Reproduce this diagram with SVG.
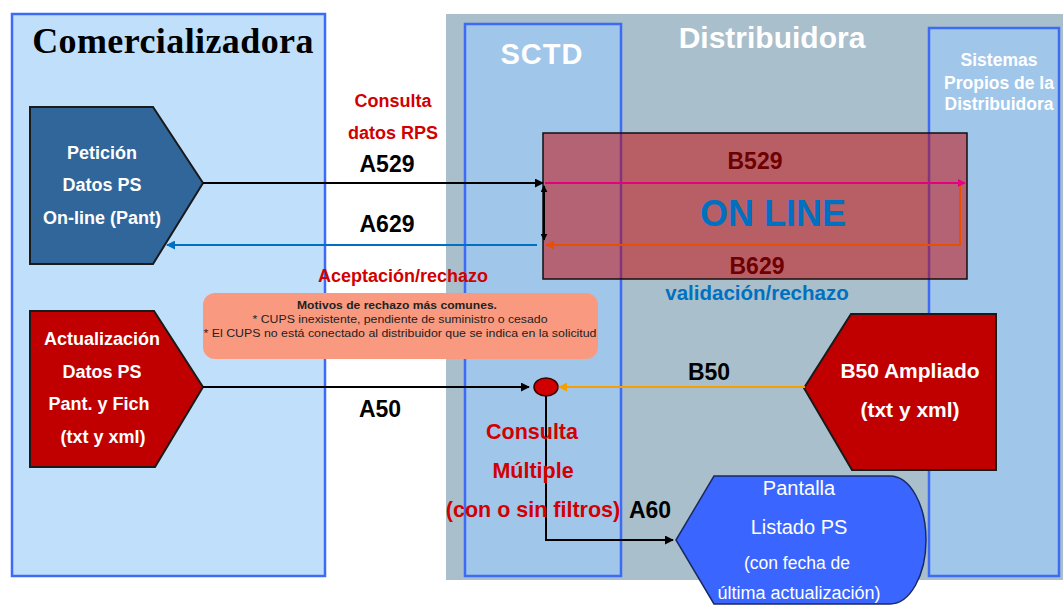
<svg xmlns="http://www.w3.org/2000/svg" width="1063" height="605" viewBox="0 0 1063 605">
<defs>
<style>
.panel{stroke:#3d6bf5;stroke-width:2.5}
.t{font-family:"Liberation Sans",Arial,sans-serif;text-anchor:middle}
.b{font-weight:bold}
.w{fill:#ffffff}
.red{fill:#d20000}
.code{font-family:"Liberation Sans",Arial,sans-serif;font-weight:bold;font-size:23px;fill:#000;text-anchor:middle}
.dk{fill:#6e0000}
.conn{fill:none;stroke-width:2}
</style>
<marker id="ahK" viewBox="0 0 10 10" refX="9" refY="5" markerWidth="9" markerHeight="9" markerUnits="userSpaceOnUse" orient="auto"><path d="M0,0 L10,5 L0,10 Z" fill="#000"/></marker>
<marker id="ahB" viewBox="0 0 10 10" refX="9" refY="5" markerWidth="9" markerHeight="9" markerUnits="userSpaceOnUse" orient="auto"><path d="M0,0 L10,5 L0,10 Z" fill="#0070c0"/></marker>
<marker id="ahM" viewBox="0 0 10 10" refX="9" refY="5" markerWidth="8" markerHeight="8" markerUnits="userSpaceOnUse" orient="auto"><path d="M0,0 L10,5 L0,10 Z" fill="#e6007e"/></marker>
<marker id="ahO" viewBox="0 0 10 10" refX="9" refY="5" markerWidth="9" markerHeight="9" markerUnits="userSpaceOnUse" orient="auto"><path d="M0,0 L10,5 L0,10 Z" fill="#e85000"/></marker>
<marker id="ahY" viewBox="0 0 10 10" refX="9" refY="5" markerWidth="9" markerHeight="9" markerUnits="userSpaceOnUse" orient="auto"><path d="M0,0 L10,5 L0,10 Z" fill="#f5a000"/></marker>
<marker id="ahS" viewBox="0 0 10 10" refX="9" refY="5" markerWidth="7" markerHeight="7" markerUnits="userSpaceOnUse" orient="auto"><path d="M0,0 L10,5 L0,10 Z" fill="#000"/></marker>
</defs>
<rect width="1063" height="605" fill="#ffffff"/>

<g id="comercializadora">
<rect class="panel" x="12" y="14" width="313" height="562" fill="#bfdffb"/>
<text x="173" y="53" style="font-family:'Liberation Serif','Times New Roman',serif;font-weight:bold;font-size:36px;text-anchor:middle" letter-spacing="0.4" fill="#000">Comercializadora</text>
</g>

<g id="distribuidora">
<rect x="446" y="14" width="617" height="566" fill="#a9bfcc"/>
<text class="t b w" x="772" y="48" font-size="30">Distribuidora</text>
</g>

<g id="sctd">
<rect class="panel" x="465" y="24" width="156" height="552" fill="#a0c6ea"/>
<text class="t b w" x="542" y="64" font-size="29" letter-spacing="1">SCTD</text>
</g>

<g id="sistemas">
<rect class="panel" x="929" y="28" width="130" height="548" fill="#a0c6ea"/>
<text class="t b w" x="999" y="66" font-size="17.5">Sistemas</text>
<text class="t b w" x="999" y="89" font-size="17.5">Propios de la</text>
<text class="t b w" x="999" y="110" font-size="17.5">Distribuidora</text>
</g>

<g id="peticion">
<path d="M30,107 L153,107 L203,183 L153,264 L30,264 Z" fill="#31669a" stroke="#1a1a1a" stroke-width="2"/>
<text class="t b w" x="102" y="159" font-size="18">Petición</text>
<text class="t b w" x="102" y="191" font-size="18">Datos PS</text>
<text class="t b w" x="102" y="224" font-size="18">On-line (Pant)</text>
</g>

<g id="actualizacion">
<path d="M30,311 L154,311 L203,387 L155,467 L30,467 Z" fill="#c00000" stroke="#1a1a1a" stroke-width="2"/>
<text class="t b w" x="102" y="345" font-size="18">Actualización</text>
<text class="t b w" x="102" y="378" font-size="18">Datos PS</text>
<text class="t b w" x="99" y="410" font-size="18">Pant. y Fich</text>
<text class="t b w" x="103" y="443" font-size="18">(txt y xml)</text>
</g>

<g id="b50ampliado">
<path d="M851,314 L996,314 L996,470 L852,470 L804,388 Z" fill="#c00000" stroke="#1a1a1a" stroke-width="2"/>
<text class="t b w" x="910" y="378" font-size="21">B50 Ampliado</text>
<text class="t b w" x="910" y="417" font-size="21">(txt y xml)</text>
</g>

<g id="pantalla">
<path d="M676,540 L714,476 L890,476 A36,64 0 0 1 890,604 L714,604 Z" fill="#3a66ff" stroke="#1a2a60" stroke-width="1.5"/>
<text class="t w" x="799" y="495" font-size="20">Pantalla</text>
<text class="t w" x="799" y="534" font-size="20">Listado PS</text>
<text class="t w" x="797" y="569" font-size="17.5">(con fecha de</text>
<text class="t w" x="799" y="599" font-size="18">última actualización)</text>
</g>

<g id="online">
<rect x="543" y="133" width="424" height="146" fill="#c80000" fill-opacity="0.5" stroke="#111" stroke-width="1.5"/>
<text class="t b dk" x="755" y="169" font-size="23">B529</text>
<text class="t b" x="773" y="226" font-size="36" fill="#0070c0">ON LINE</text>
<text class="t b dk" x="757" y="274" font-size="23">B629</text>
</g>

<g id="motivos">
<rect x="203" y="293" width="395" height="66" rx="12" fill="#f99a80"/>
<text class="t b" x="397" y="309" font-size="11" textLength="200" lengthAdjust="spacingAndGlyphs" fill="#222">Motivos de rechazo más comunes.</text>
<text class="t" x="400" y="323" font-size="11" textLength="295" lengthAdjust="spacingAndGlyphs" fill="#222">* CUPS inexistente,  pendiente  de suministro o cesado</text>
<text class="t" x="400" y="337" font-size="11" textLength="393" lengthAdjust="spacingAndGlyphs" fill="#222">* El CUPS no está conectado  al distribuidor que se indica en la solicitud</text>
</g>

<g id="consulta-multiple">
<ellipse cx="546" cy="387" rx="12" ry="9" fill="#d00000" stroke="#3a0000" stroke-width="1.5"/>
</g>

<g id="connectors">
<line class="conn" x1="203" y1="183" x2="543" y2="183" stroke="#000" marker-end="url(#ahK)"/>
<line class="conn" x1="537" y1="245" x2="167" y2="245" stroke="#0070c0" marker-end="url(#ahB)"/>
<line class="conn" x1="544" y1="240" x2="544" y2="186" stroke="#000" stroke-width="1.5" marker-end="url(#ahS)"/>
<line class="conn" x1="544" y1="186" x2="544" y2="240" stroke="#000" stroke-width="1.5" marker-end="url(#ahS)"/>
<line class="conn" x1="545" y1="183" x2="965" y2="183" stroke="#e6007e" marker-end="url(#ahM)"/>
<polyline class="conn" points="960,186 960,245 546,245" stroke="#e85000" marker-end="url(#ahO)"/>
<line class="conn" x1="203" y1="387" x2="529" y2="387" stroke="#000" marker-end="url(#ahK)"/>
<line class="conn" x1="805" y1="387" x2="559" y2="387" stroke="#f5a000" marker-end="url(#ahY)"/>
<polyline class="conn" points="546,396 546,540 673,540" stroke="#000" marker-end="url(#ahK)"/>
</g>

<g id="labels">
<text class="t b red" x="393" y="107" font-size="18">Consulta</text>
<text class="t b red" x="393" y="139" font-size="18">datos RPS</text>
<text class="code" x="387" y="172">A529</text>
<text class="code" x="387" y="232">A629</text>
<text class="t b red" x="403" y="282" font-size="18">Aceptación/rechazo</text>
<text class="t b" x="757" y="300" font-size="20.5" fill="#0070c0">validación/rechazo</text>
<text class="code" x="380" y="417">A50</text>
<text class="code" x="709" y="380">B50</text>
<text class="t b red" x="532" y="439" font-size="21.5">Consulta</text>
<text class="t b red" x="533" y="478" font-size="21.5">Múltiple</text>
<text class="t b red" x="533" y="517" font-size="21.5">(con o sin filtros)</text>
<text class="code" x="650" y="518">A60</text>
</g>
</svg>
